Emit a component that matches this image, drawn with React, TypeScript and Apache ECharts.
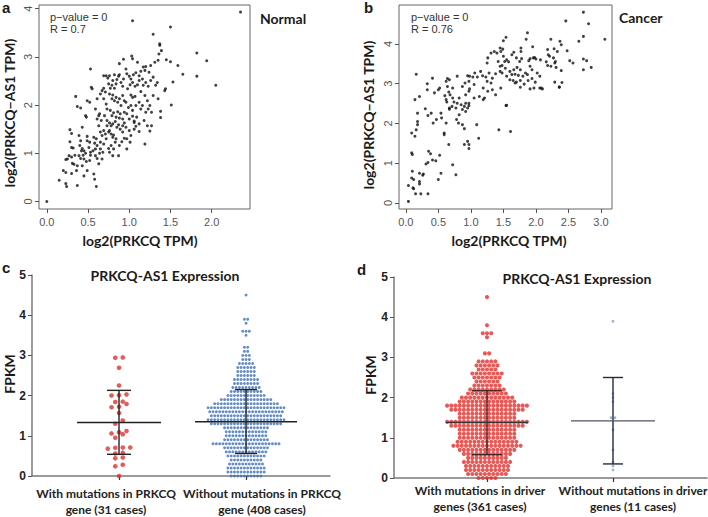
import React, { useEffect, useRef } from 'react';
import * as echarts from 'echarts';

// ---------- Panel a: Normal (x = log2(PRKCQ TPM), y = log2(PRKCQ-AS1 TPM)) ----------
const normalPts: number[][] = [
  [0.0,0.0],
  [0.15,0.44],[0.23,0.37],[0.24,0.31],[0.20,0.64],[0.23,0.60],[0.25,0.88],[0.23,0.87],[0.27,0.95],[0.28,1.49],[0.30,1.41],[0.28,1.24],[0.30,1.12],[0.32,1.11],[0.30,0.92],[0.31,0.79],[0.33,0.77],[0.30,0.58],[0.34,0.96],[0.35,2.18],[0.37,0.74],[0.37,0.33],[0.36,0.64],
  [0.37,1.97],[0.41,1.94],[0.39,1.37],[0.41,1.26],[0.43,1.54],[0.40,1.16],[0.42,1.05],[0.39,0.95],[0.41,0.89],[0.44,0.96],[0.45,1.05],[0.45,0.88],[0.47,1.0],[0.48,0.83],[0.49,1.35],[0.49,1.26],[0.51,1.12],[0.52,1.23],[0.53,1.02],[0.53,0.96],[0.52,0.85],[0.49,0.64],[0.47,1.78],[0.48,1.75],[0.49,2.09],[0.52,2.06],[0.53,2.75],[0.54,2.37],[0.55,2.34],[0.45,0.53],[0.43,0.74],[0.43,1.10],
  [0.57,1.33],[0.58,1.21],[0.59,1.09],[0.60,1.30],[0.61,1.16],[0.56,1.05],[0.59,0.95],[0.61,0.89],[0.57,0.57],[0.58,0.46],[0.60,0.31],[0.63,0.78],[0.64,1.0],[0.65,1.09],[0.65,1.23],[0.67,1.37],[0.65,1.44],[0.63,1.57],[0.61,1.71],[0.64,1.82],[0.66,1.68],[0.59,1.92],[0.61,2.13],[0.65,2.23],[0.67,2.30],[0.69,2.35],[0.71,2.27],[0.69,2.13],[0.72,2.02],[0.73,1.92],[0.70,1.78],[0.73,1.68],[0.73,1.57],[0.69,1.47],[0.71,1.40],[0.72,1.30],[0.69,1.19],[0.68,1.02],[0.67,0.88],[0.69,2.61],[0.72,2.61],[0.74,2.56],[0.63,1.78],[0.75,2.44],[0.75,1.44],[0.75,1.10],
  [0.76,2.61],[0.77,2.35],[0.79,2.41],[0.80,2.51],[0.82,2.35],[0.84,2.44],[0.85,2.53],[0.87,2.60],[0.88,2.63],[0.90,2.47],[0.92,2.39],[0.93,2.54],[0.76,2.23],[0.79,2.13],[0.80,2.21],[0.82,2.09],[0.84,2.16],[0.86,2.06],[0.88,2.13],[0.90,1.99],[0.92,2.20],[0.94,2.09],[0.77,1.89],[0.79,1.78],[0.81,1.84],[0.84,1.75],[0.86,1.86],[0.88,1.73],[0.89,1.82],[0.92,1.71],[0.94,1.85],[0.76,1.63],[0.78,1.57],[0.80,1.61],[0.83,1.66],[0.85,1.54],[0.87,1.59],[0.89,1.50],[0.92,1.57],[0.94,1.63],[0.76,1.47],[0.78,1.40],[0.80,1.33],[0.81,1.38],[0.84,1.30],[0.83,1.23],[0.78,1.16],[0.81,1.09],[0.76,1.02],[0.80,0.95],[0.87,0.95],[0.94,1.31],[0.92,1.44],[0.91,1.24],[0.88,1.16],[0.93,2.95],[0.96,2.75],[0.88,2.86],[0.82,2.63],
  [1.04,3.75],[1.03,3.02],[1.04,2.96],[1.10,2.89],[0.97,2.65],[1.00,2.60],[1.02,2.54],[1.05,2.63],[1.08,2.67],[1.12,2.61],[1.14,2.70],[1.01,2.42],[1.04,2.47],[1.07,2.39],[1.10,2.42],[1.12,2.51],[0.98,2.34],[1.02,2.21],[1.04,2.16],[1.07,2.18],[0.96,2.06],[0.99,1.95],[1.02,1.99],[1.04,1.89],[1.08,1.99],[1.12,2.06],[1.14,1.92],[0.97,1.82],[1.00,1.71],[1.04,1.77],[1.06,1.64],[1.09,1.75],[1.12,1.61],[0.96,1.54],[1.00,1.47],[1.02,1.37],[1.06,1.50],[1.08,1.56],[1.12,1.45],[0.97,1.30],[1.01,1.23],[0.97,1.09],[1.06,1.67],[1.14,2.28],
  [1.17,2.79],[1.19,2.72],[1.20,2.80],[1.24,2.68],[1.26,2.82],[1.16,2.54],[1.20,2.47],[1.23,2.39],[1.26,2.51],[1.17,2.41],[1.19,2.20],[1.22,2.09],[1.25,1.99],[1.16,1.99],[1.20,1.85],[1.29,2.20],[1.32,2.41],[1.34,2.47],[1.23,1.92],[1.27,1.85],[1.18,1.68],[1.22,1.57],[1.27,1.57],[1.25,1.46],[1.19,1.19],[1.29,3.47],[1.37,3.27],[1.37,3.24],[1.39,3.13],[1.36,3.06],[1.31,2.89],[1.35,2.93],[1.29,2.58],[1.38,1.87],[1.38,1.74],[1.43,2.30],[1.35,2.13],
  [1.45,2.94],[1.50,2.90],[1.50,3.62],[1.59,2.82],[1.53,2.48],[1.51,2.0],[1.65,2.64],[1.82,3.08],[1.82,2.60],[1.94,2.92],[2.05,2.41],[2.35,3.93],[1.44,2.34]
];

// ---------- Panel b: Cancer ----------
const cancerPts: number[][] = [
  [0.04,0.04],[0.15,0.23],[0.23,0.23],[0.34,0.23],[0.04,0.44],[0.11,0.38],[0.12,0.36],[0.09,0.63],[0.12,0.59],[0.10,0.80],[0.21,0.75],[0.21,0.54],[0.21,0.48],[0.27,0.73],[0.26,0.70],[0.31,0.98],[0.34,1.02],[0.41,1.08],[0.50,0.59],[0.54,0.75],[0.52,1.20],[0.46,1.06],[0.72,0.96],[0.77,0.71],
  [0.09,1.26],[0.10,1.22],[0.35,1.30],[0.38,1.24],[0.66,1.47],[0.59,1.72],
  [0.09,1.76],[0.14,1.68],[0.16,1.84],[0.18,2.05],[0.18,1.97],[0.18,2.26],[0.14,2.60],[0.21,2.68],[0.16,3.24],[0.33,2.85],[0.33,3.0],[0.41,3.14],[0.39,2.26],[0.42,2.01],[0.47,2.10],[0.44,2.77],[0.50,2.85],[0.52,2.89],[0.54,2.26],[0.55,2.14],[0.62,2.01],[0.59,1.76],[0.30,2.37],[0.34,2.20],
  [0.62,3.06],[0.64,3.13],[0.67,3.10],[0.62,2.60],[0.63,2.54],[0.66,2.79],[0.68,2.72],[0.72,2.64],[0.74,2.54],[0.77,2.39],[0.71,2.43],[0.67,2.39],[0.79,2.51],[0.82,2.64],[0.85,2.47],[0.87,2.35],[0.90,2.43],[0.92,2.30],[0.95,2.39],[0.97,2.51],[0.92,2.72],[0.97,2.81],[0.87,2.93],[0.91,3.02],[0.79,3.19],[0.95,3.20],[0.98,3.19],[0.82,2.22],[0.64,2.93],[0.72,2.89],
  [0.87,1.97],[0.90,1.87],[0.95,1.55],[0.97,1.47],[0.97,1.37],[0.90,1.47],[1.09,1.97],[1.12,1.63],[0.78,2.10],[0.81,2.01],[0.67,2.36],[0.60,2.70],
  [2.73,4.80],[2.46,4.58],[2.81,4.51],[3.06,4.12],[2.73,4.19],[2.66,4.07],[1.87,4.28],[1.54,4.17],[1.50,4.08],[2.23,4.12],[2.37,4.07],[2.39,3.98],[1.85,4.12],
  [1.45,3.90],[1.49,3.87],[1.66,3.79],[1.77,3.90],[1.77,3.81],[1.95,3.93],[1.96,3.65],[2.00,3.62],[2.18,3.86],[2.28,3.88],[2.33,3.81],[2.19,3.73],[2.21,3.69],[2.27,3.65],[2.30,3.56],[2.48,3.83],[2.52,3.58],[2.57,3.52],[2.73,3.62],[2.78,3.58],[2.85,3.41],[2.73,3.35],[2.39,3.33],[2.16,3.55],[2.18,3.46],[2.29,3.52],[2.31,3.41],[2.23,3.44],
  [1.50,3.69],[1.55,3.60],[1.58,3.55],[1.63,3.73],[1.70,3.65],[1.75,3.56],[1.78,3.63],[1.89,3.58],[1.91,3.63],[1.98,3.66],[2.07,3.60],
  [1.48,3.46],[1.53,3.39],[1.60,3.31],[1.66,3.35],[1.71,3.41],[1.76,3.35],[1.84,3.27],[1.91,3.44],[1.94,3.35],[2.02,3.27],[2.06,3.19],[1.63,3.23],[1.68,3.24],[1.73,3.21],[1.80,3.19],[1.87,3.23],[1.48,3.27],[1.55,3.19],[1.60,3.10],[1.65,3.08],[1.70,3.04],[1.76,3.08],[1.82,2.99],[1.88,3.08],[1.94,3.13],[1.99,3.04],[1.97,2.89],[1.91,2.87],[1.76,2.91],[1.68,3.02],[2.06,2.89],[2.10,2.87],[2.29,3.04],[2.36,2.91],[1.55,2.46],[1.61,1.80],[1.45,3.31],
  [1.03,3.17],[1.06,3.27],[1.10,3.17],[1.15,3.31],[1.18,3.20],[1.23,3.17],[1.26,3.65],[1.25,3.52],[1.31,3.77],[1.36,3.81],[1.40,3.77],[1.46,3.81],[1.42,3.56],[1.45,3.44],[1.52,3.56],[1.28,3.27],[1.33,3.14],[1.38,3.25],[1.31,3.02],[1.25,3.06],[1.19,2.89],[1.26,2.81],[1.33,2.85],[1.38,2.72],[1.46,2.89],[1.21,2.64],[1.19,2.60],[1.13,2.68],[1.05,2.98],[0.97,3.06],[0.98,2.87],[1.05,2.64],[0.97,2.45],[0.92,2.51],
  [1.43,1.84],[1.54,2.45],[2.40,3.03],[2.36,2.92],[2.08,2.89]
];

const normalXTicks = [0, 0.5, 1.0, 1.5, 2.0];
const cancerXTicks = [0, 0.5, 1.0, 1.5, 2.0, 2.5, 3.0];
const scatterYTicks = [0, 1, 2, 3, 4];

// ---------- Panels c / d: FPKM dot plots ----------
const catsC = ['With mutations in PRKCQ\ngene (31 cases)', 'Without mutations in PRKCQ\ngene (408 cases)'];
const catsD = ['With mutations in driver\ngenes (361 cases)', 'Without mutations in driver\ngenes (11 cases)'];

// c: with mutations (31 individual values)
const redC = [2.95, 2.94, 2.69, 2.25, 2.03, 2.01, 2.0, 1.85, 1.84, 1.79, 1.72, 1.71, 1.57, 1.38, 1.30, 1.12, 1.09, 1.06, 1.04, 0.95, 0.71, 0.71, 0.70, 0.68, 0.58, 0.56, 0.46, 0.44, 0.28, 0.24, 0.0];

// FPKM levels used by the binned dot plots
const fpkmLevels = [0, 0.1, 0.2, 0.3, 0.4, 0.5, 0.6, 0.7, 0.8, 0.9, 1.0, 1.1, 1.2, 1.3, 1.4, 1.5, 1.6, 1.7, 1.8, 1.9, 2.0, 2.1, 2.2, 2.3, 2.4, 2.5, 2.6, 2.7, 2.8, 2.9, 3.0, 3.1, 3.2, 3.3, 3.4, 3.5, 3.6, 3.7, 3.8, 3.9, 4.0, 4.1, 4.2, 4.3, 4.4, 4.5];
// c: without mutations (408 cases), count per level
const blueCCounts = [10, 12, 12, 11, 10, 12, 13, 14, 21, 14, 13, 13, 14, 22, 24, 22, 23, 24, 20, 16, 12, 10, 9, 8, 8, 6, 6, 6, 5, 3, 3, 2, 2, 0, 0, 1, 3, 0, 1, 2, 0, 0, 0, 0, 0, 1];
// d: with driver mutations (361 cases), count per level
const redDCounts = [5, 10, 11, 11, 12, 10, 12, 14, 17, 15, 14, 14, 14, 18, 20, 14, 14, 18, 20, 14, 13, 10, 9, 7, 6, 7, 8, 5, 6, 5, 0, 2, 0, 0, 0, 1, 3, 0, 1, 0, 0, 0, 0, 0, 0, 1];
// d: without driver mutations (11 cases)
const blueD = [3.9, 2.1, 2.0, 1.9, 1.5, 1.5, 1.2, 0.7, 0.4, 0.3, 0.2];

// mean and SD
const meanC = [1.33, 1.35];
const sdLowC = [0.54, 0.56];
const sdHighC = [2.13, 2.15];
const meanD = [1.38, 1.42];
const sdLowD = [0.58, 0.35];
const sdHighD = [2.17, 2.50];

// ---------- layout ----------
const CX = { min: -0.685, max: 1.661, width: 298 };
const DX = { min: -0.738, max: 1.746, width: 313 };

function expand(levels: number[], counts: number[]) {
  const out: number[] = [];
  levels.forEach((l, i) => { for (let k = 0; k < counts[i]; k++) out.push(l); });
  return out;
}

function swarm(values: number[], center: number, stepPx: number, pxPerUnit: number, tol: number) {
  const s = [...values].sort((a, b) => a - b);
  const out: number[][] = [];
  let i = 0;
  while (i < s.length) {
    let j = i;
    while (j < s.length && s[j] - s[i] < tol) j++;
    const n = j - i;
    for (let k = 0; k < n; k++) out.push([center + ((k - (n - 1) / 2) * stepPx) / pxPerUnit, s[i + k]]);
    i = j;
  }
  return out;
}

const ppuC = CX.width / (CX.max - CX.min);
const ppuD = DX.width / (DX.max - DX.min);

const redCPts = swarm(redC, 0, 7.5, ppuC, 0.1);
const blueCPts = swarm(expand(fpkmLevels, blueCCounts), 1, 3.3, ppuC, 0.05);
const redDPts = swarm(expand(fpkmLevels, redDCounts), 0, 4.2, ppuD, 0.05);
const blueDPts = swarm(blueD, 1, 4, ppuD, 0.05);

const SANS = 'Liberation Sans, Arial, sans-serif';
const HUM = 'Lato, Liberation Sans, sans-serif';

function scatterAxes(gi: number, xmin: number, xmax: number, ymin: number, ymax: number, xt: number[]) {
  const common = {
    gridIndex: gi,
    type: 'value' as const,
    axisLine: { show: false, onZero: false },
    splitLine: { show: false },
  };
  return {
    x: {
      ...common, min: xmin, max: xmax,
      axisTick: { show: true, customValues: xt, length: 4, lineStyle: { color: '#555' } },
      axisLabel: { customValues: xt, formatter: (v: number) => v.toFixed(1), fontSize: 11, color: '#555', margin: 7, fontFamily: SANS },
    },
    y: {
      ...common, min: ymin, max: ymax,
      axisTick: { show: true, customValues: scatterYTicks, length: 4, lineStyle: { color: '#555' } },
      axisLabel: { customValues: scatterYTicks, rotate: 90, fontSize: 11, color: '#555', margin: 6, fontFamily: SANS },
    },
  };
}

function dotAxes(gi: number, r: { min: number; max: number }) {
  return {
    x: {
      gridIndex: gi, type: 'value' as const, min: r.min, max: r.max,
      axisLine: { show: true, onZero: false, lineStyle: { color: '#7a7a7a', width: 1.5 } },
      axisTick: { show: true, customValues: [0, 1], length: 4, lineStyle: { color: '#333', width: 1.2 } },
      splitLine: { show: false },
      axisLabel: { show: false },
    },
    y: {
      gridIndex: gi, type: 'value' as const, min: 0, max: 5, interval: 1,
      axisLine: { show: true, onZero: false, lineStyle: { color: '#7a7a7a', width: 1.5 } },
      axisTick: { show: true, length: 4, lineStyle: { color: '#555' } },
      splitLine: { show: false },
      axisLabel: { fontSize: 12, fontWeight: 'bold', color: '#222', margin: 6, fontFamily: SANS },
    },
  };
}

function errorSeries(xi: number, means: number[], lows: number[], highs: number[], styles: { mean: number; cap: number; barColor: string; meanColor: string }[]) {
  return {
    type: 'custom' as const,
    xAxisIndex: xi, yAxisIndex: xi, z: 5,
    encode: { x: 0, y: 1 },
    data: means.map((m, i) => [i, m, lows[i], highs[i]]),
    renderItem: (params: any, api: any) => {
      const st = styles[params.dataIndex];
      const x = api.value(0);
      const pm = api.coord([x, api.value(1)]);
      const pl = api.coord([x, api.value(2)]);
      const ph = api.coord([x, api.value(3)]);
      const bar = { stroke: st.barColor, lineWidth: 1.4 };
      return {
        type: 'group',
        children: [
          { type: 'line', shape: { x1: pl[0], y1: pl[1], x2: ph[0], y2: ph[1] }, style: bar },
          { type: 'line', shape: { x1: ph[0] - st.cap, y1: ph[1], x2: ph[0] + st.cap, y2: ph[1] }, style: bar },
          { type: 'line', shape: { x1: pl[0] - st.cap, y1: pl[1], x2: pl[0] + st.cap, y2: pl[1] }, style: bar },
          { type: 'line', shape: { x1: pm[0] - st.mean, y1: pm[1], x2: pm[0] + st.mean, y2: pm[1] }, style: { stroke: st.meanColor, lineWidth: 1.4 } },
        ],
      };
    },
  };
}

function txt(text: string, x: number, y: number, size: number, opts: any = {}) {
  return {
    type: 'text', x, y, rotation: opts.rotation || 0, silent: true,
    style: {
      text, fontSize: size, fontWeight: opts.weight || 'bold', fontFamily: opts.family || HUM,
      fill: opts.color || '#1a1a1a', lineHeight: opts.lineHeight,
      textAlign: opts.align || 'left', textVerticalAlign: opts.valign || 'top',
      align: opts.align || 'left', verticalAlign: opts.valign || 'top',
    },
  };
}

// category label anchors (centre x, top y of first line)
const catLabelPos = [[106, 486], [262, 486], [480, 483], [633, 483]];

export default function App() {
  const ref = useRef<HTMLDivElement>(null);
  useEffect(() => {
    if (!ref.current) return;
    const chart = echarts.init(ref.current, null, { renderer: 'svg' });
    const a = scatterAxes(0, -0.095, 2.465, -0.157, 4.077, normalXTicks);
    const b = scatterAxes(1, -0.105, 3.17, -0.151, 4.98, cancerXTicks);
    const c = dotAxes(2, CX);
    const d = dotAxes(3, DX);
    const catTexts = [...catsC, ...catsD].map((t, i) =>
      txt(t, catLabelPos[i][0], catLabelPos[i][1], 12, { align: 'center', valign: 'top', lineHeight: 15.5, color: '#222' })
    );
    const option: any = {
      animation: false,
      backgroundColor: '#ffffff',
      grid: [
        { left: 39, top: 5, width: 211, height: 204, show: true, borderColor: '#666', borderWidth: 1 },
        { left: 399, top: 5, width: 213, height: 204, show: true, borderColor: '#666', borderWidth: 1 },
        { left: 32, top: 275, width: CX.width, height: 201 },
        { left: 394, top: 277, width: DX.width, height: 201 },
      ],
      xAxis: [a.x, b.x, c.x, d.x],
      yAxis: [a.y, b.y, c.y, d.y],
      series: [
        { type: 'scatter', xAxisIndex: 0, yAxisIndex: 0, data: normalPts, symbol: 'circle', symbolSize: 3, itemStyle: { color: '#111' } },
        { type: 'scatter', xAxisIndex: 1, yAxisIndex: 1, data: cancerPts, symbol: 'circle', symbolSize: 3, itemStyle: { color: '#111' } },
        { type: 'scatter', xAxisIndex: 2, yAxisIndex: 2, data: redCPts, symbol: 'circle', symbolSize: 4.6, itemStyle: { color: '#dc3232' } },
        { type: 'scatter', xAxisIndex: 2, yAxisIndex: 2, data: blueCPts, symbol: 'circle', symbolSize: 2.9, itemStyle: { color: '#3f6fb4' } },
        { type: 'scatter', xAxisIndex: 3, yAxisIndex: 3, data: redDPts, symbol: 'circle', symbolSize: 4.1, itemStyle: { color: '#e0302c' } },
        { type: 'scatter', xAxisIndex: 3, yAxisIndex: 3, data: blueDPts, symbol: 'circle', symbolSize: 2.8, itemStyle: { color: '#8a9fc6' } },
        errorSeries(2, meanC, sdLowC, sdHighC, [
          { mean: 42, cap: 12, barColor: '#222', meanColor: '#222' },
          { mean: 51, cap: 11, barColor: '#222', meanColor: '#222' },
        ]),
        errorSeries(3, meanD, sdLowD, sdHighD, [
          { mean: 41, cap: 15, barColor: '#3a2222', meanColor: '#333' },
          { mean: 42, cap: 10, barColor: '#1f2b42', meanColor: '#4e5563' },
        ]),
      ],
      graphic: [
        txt('a', 2, 0, 15, { family: SANS }),
        txt('b', 364, 0, 15, { family: SANS }),
        txt('c', 2, 260, 15, { family: SANS }),
        txt('d', 357, 262, 15, { family: SANS }),
        txt('Normal', 260, 11, 14),
        txt('Cancer', 619, 10, 14),
        txt('p\u2212value = 0', 50, 11, 11, { weight: 'normal', family: SANS, color: '#333' }),
        txt('R = 0.7', 50, 23, 11, { weight: 'normal', family: SANS, color: '#333' }),
        txt('p\u2212value = 0', 411, 11, 11, { weight: 'normal', family: SANS, color: '#333' }),
        txt('R = 0.76', 411, 23, 11, { weight: 'normal', family: SANS, color: '#333' }),
        txt('log2(PRKCQ TPM)', 140, 240, 14, { align: 'center', valign: 'middle' }),
        txt('log2(PRKCQ TPM)', 509, 240, 14, { align: 'center', valign: 'middle' }),
        txt('log2(PRKCQ\u2212AS1 TPM)', 9, 113, 14, { align: 'center', valign: 'middle', rotation: Math.PI / 2 }),
        txt('log2(PRKCQ\u2212AS1 TPM)', 368, 115, 14, { align: 'center', valign: 'middle', rotation: Math.PI / 2 }),
        txt('PRKCQ-AS1 Expression', 165, 275, 14, { align: 'center', valign: 'middle' }),
        txt('PRKCQ-AS1 Expression', 577, 278, 14, { align: 'center', valign: 'middle' }),
        txt('FPKM', 9, 374, 14, { align: 'center', valign: 'middle', rotation: Math.PI / 2 }),
        txt('FPKM', 370, 375, 14, { align: 'center', valign: 'middle', rotation: Math.PI / 2 }),
        ...catTexts,
      ],
    };
    chart.setOption(option);
    return () => chart.dispose();
  }, []);
  return <div ref={ref} style={{ position: 'fixed', left: 0, top: 0, width: 708, height: 517, background: '#fff' }} />;
}
